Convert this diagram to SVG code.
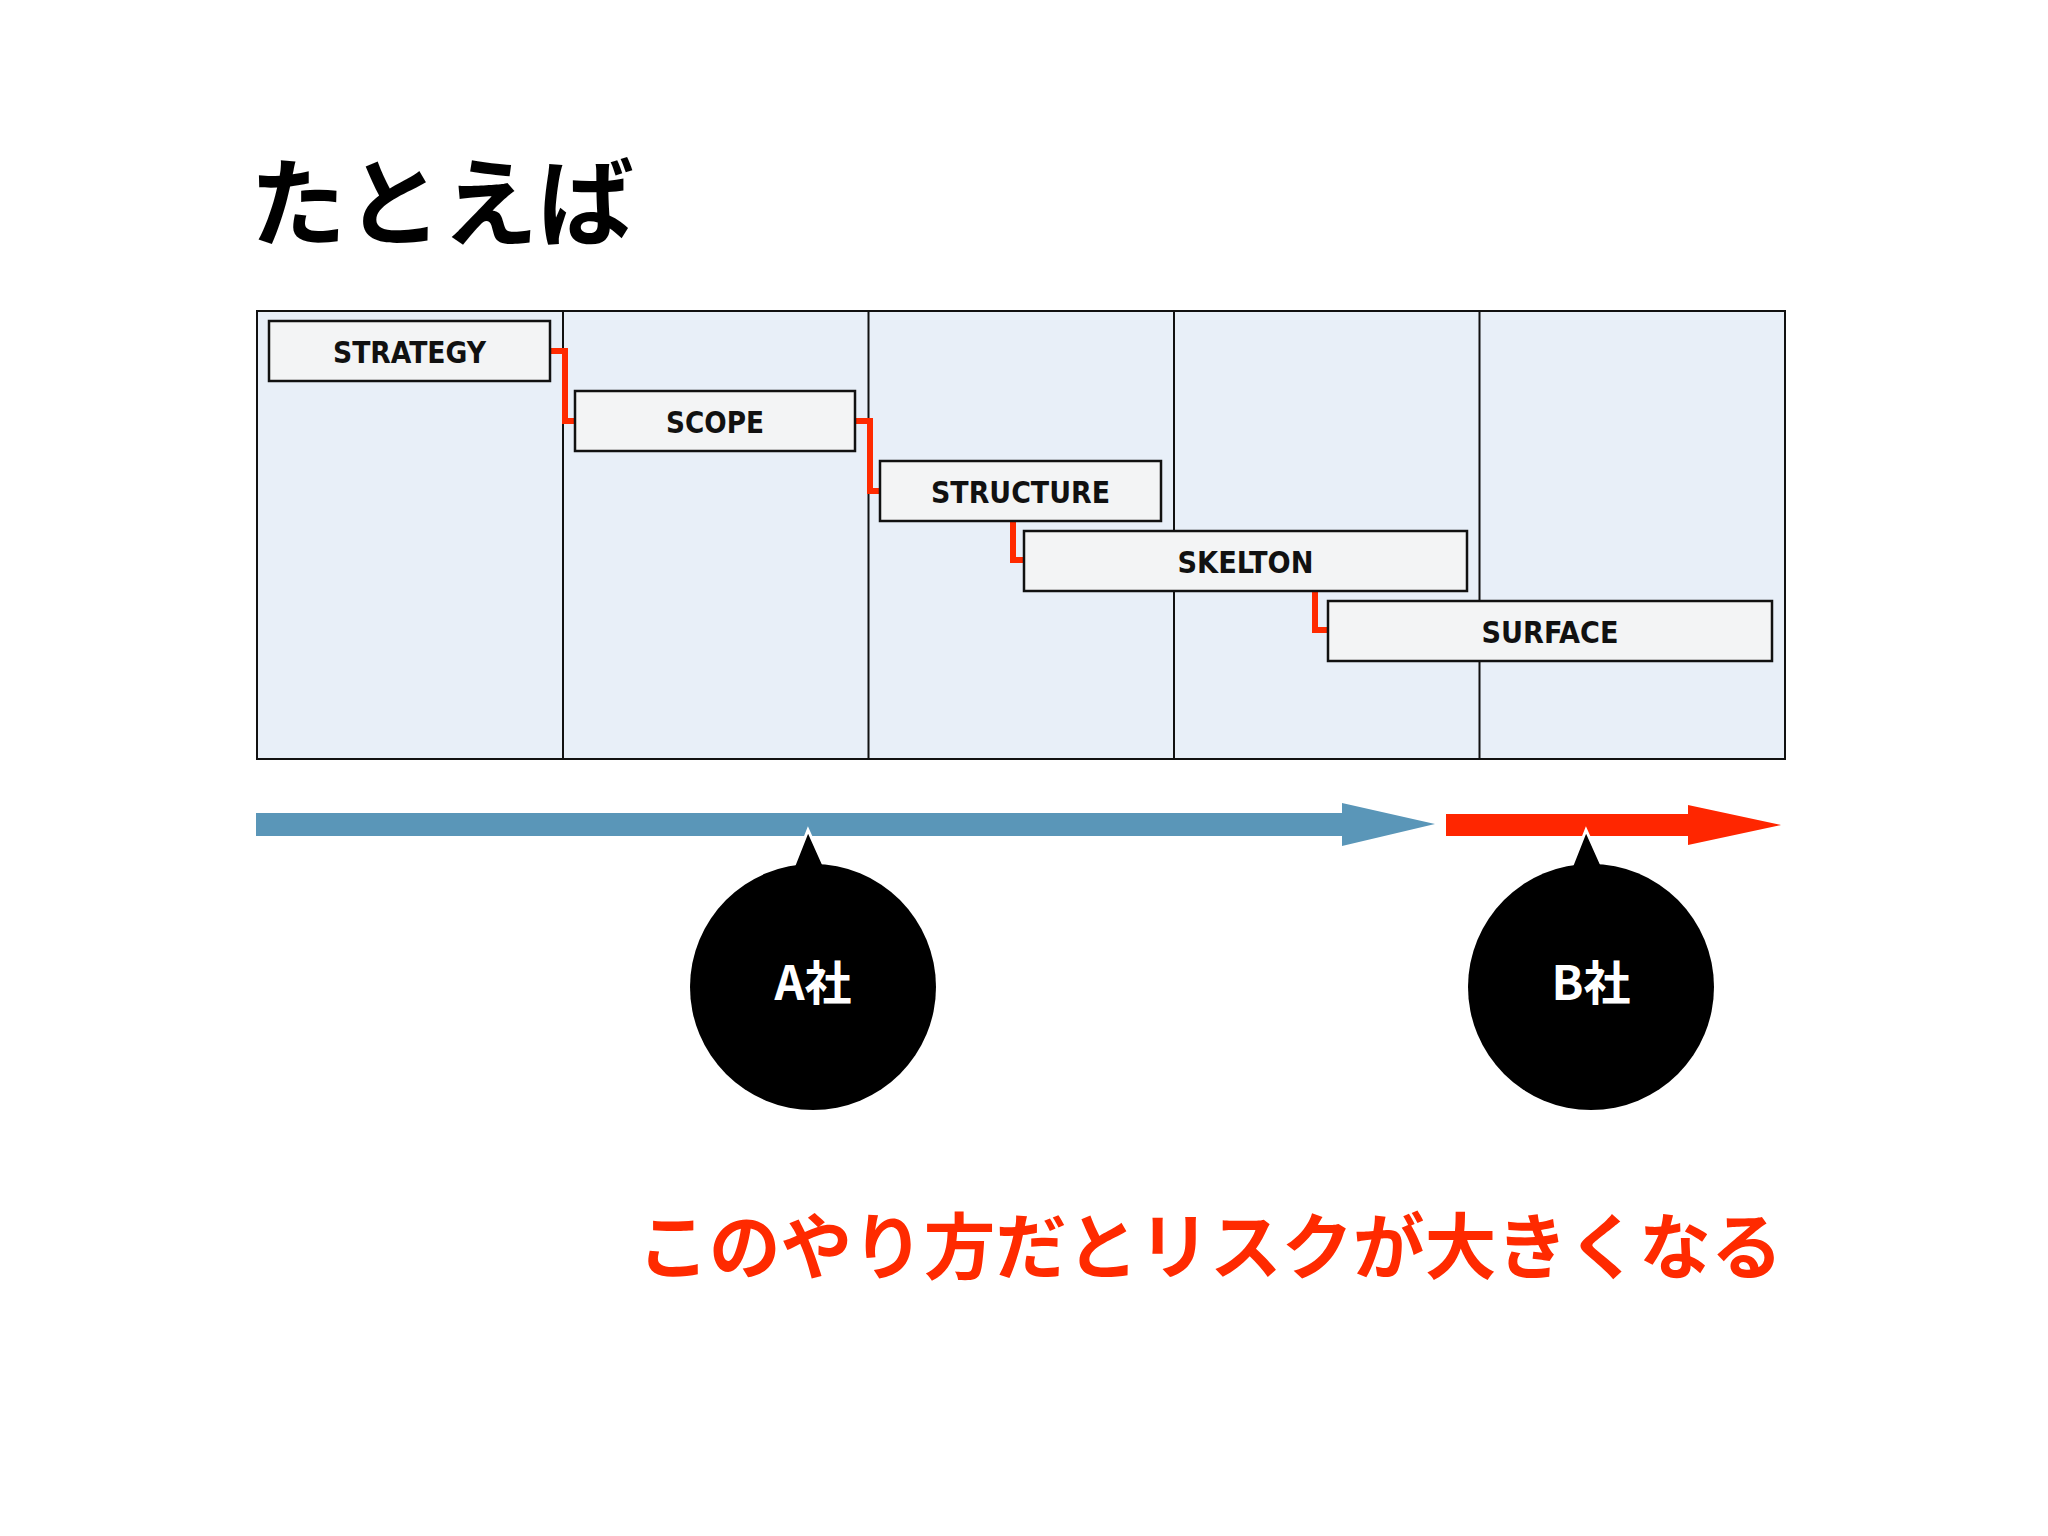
<svg xmlns="http://www.w3.org/2000/svg" width="2048" height="1536" viewBox="0 0 2048 1536">
  <style>
    .col { fill: #E8EFF8; stroke: #111; stroke-width: 2; }
    .box { fill: #F3F4F5; stroke: #111; stroke-width: 2.5; }
    .lbl { font-family: "DejaVu Sans Condensed", "DejaVu Sans", sans-serif; font-weight: bold; font-size: 31px; fill: #111; text-anchor: middle; }
    .link { fill: none; stroke: #FF2A00; stroke-width: 6; stroke-linejoin: miter; }
    .ja { font-family: "Noto Sans CJK JP", sans-serif; font-weight: bold; }
    .ptr { fill: #000; stroke: #fff; stroke-width: 3; stroke-linejoin: miter; }
  </style>
  <rect width="2048" height="1536" fill="#fff"/>

  <text class="ja" x="250" y="238" font-size="96" fill="#000">たとえば</text>

  <g id="frame">
    <rect class="col" x="257" y="311" width="1528" height="448"/>
    <line x1="563" y1="311" x2="563" y2="759" stroke="#111" stroke-width="2"/>
    <line x1="868.5" y1="311" x2="868.5" y2="759" stroke="#111" stroke-width="2"/>
    <line x1="1174" y1="311" x2="1174" y2="759" stroke="#111" stroke-width="2"/>
    <line x1="1479.5" y1="311" x2="1479.5" y2="759" stroke="#111" stroke-width="2"/>
  </g>

  <g id="connectors">
    <path class="link" d="M550 351 H565 V421 H575"/>
    <path class="link" d="M855 421 H870 V491 H880"/>
    <path class="link" d="M1013 521 V560 H1024"/>
    <path class="link" d="M1315 590 V630 H1328"/>
  </g>

  <g id="strategy">
    <rect class="box" x="269" y="321" width="281" height="60"/>
    <text class="lbl" x="409.5" y="363" textLength="153" lengthAdjust="spacingAndGlyphs">STRATEGY</text>
  </g>
  <g id="scope">
    <rect class="box" x="575" y="391" width="280" height="60"/>
    <text class="lbl" x="715" y="433" textLength="98" lengthAdjust="spacingAndGlyphs">SCOPE</text>
  </g>
  <g id="structure">
    <rect class="box" x="880" y="461" width="281" height="60"/>
    <text class="lbl" x="1020.5" y="503" textLength="179" lengthAdjust="spacingAndGlyphs">STRUCTURE</text>
  </g>
  <g id="skelton">
    <rect class="box" x="1024" y="531" width="443" height="60"/>
    <text class="lbl" x="1245.5" y="573" textLength="136" lengthAdjust="spacingAndGlyphs">SKELTON</text>
  </g>
  <g id="surface">
    <rect class="box" x="1328" y="601" width="444" height="60"/>
    <text class="lbl" x="1550" y="643" textLength="137" lengthAdjust="spacingAndGlyphs">SURFACE</text>
  </g>

  <g id="arrows">
    <polygon fill="#5A96B8" points="256,813 1342,813 1342,803 1435,824 1342,846 1342,836 256,836"/>
    <polygon fill="#FF2600" points="1446,814 1688,814 1688,805 1781,825 1688,845 1688,836 1446,836"/>
  </g>

  <g id="companyA">
    <path class="ptr" d="M793 868 L808 830 L825 868 Z"/>
    <circle cx="813" cy="987" r="123" fill="#000"/>
    <text class="ja" x="813" y="1000" font-size="47" fill="#fff" text-anchor="middle">A社</text>
  </g>
  <g id="companyB">
    <path class="ptr" d="M1571 868 L1586 830 L1603 868 Z"/>
    <circle cx="1591" cy="987" r="123" fill="#000"/>
    <text class="ja" x="1591" y="1000" font-size="47" fill="#fff" text-anchor="middle">B社</text>
  </g>

  <text class="ja" x="1210" y="1273" font-size="72" fill="#FF2A00" text-anchor="middle" textLength="1145" lengthAdjust="spacingAndGlyphs">このやり方だとリスクが大きくなる</text>
</svg>
